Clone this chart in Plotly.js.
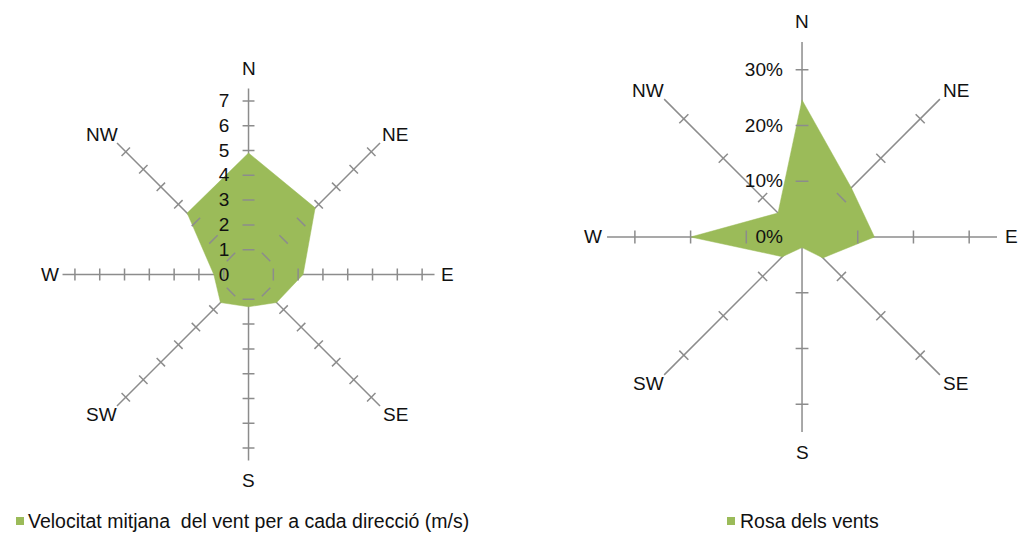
<!DOCTYPE html>
<html>
<head>
<meta charset="utf-8">
<script src="https://cdn.plot.ly/plotly-3.0.1.min.js"></script>
<style>html,body{margin:0;padding:0;background:#fff;}#chart{width:1020px;height:533px;}</style>
</head>
<body>
<div id="chart"></div>
<script>
// ---- data ----
var directions = ['N', 'NE', 'E', 'SE', 'S', 'SW', 'W', 'NW'];
var directionAngles = [0, 45, 90, 135, 180, 225, 270, 315];
var speedValues = [4.9, 3.8, 2.2, 1.6, 1.3, 1.6, 1.4, 3.5];      // m/s
var frequencyValues = [24.6, 12.5, 13.0, 5.3, 1.9, 5.0, 20.0, 6.1]; // %
var speedTicks = [0, 1, 2, 3, 4, 5, 6, 7];
var frequencyTicks = [0, 10, 20, 30];
var speedLegend = 'Velocitat mitjana  del vent per a cada direcció (m/s)';
var freqLegend = 'Rosa dels vents';

var W = 1020, H = 533;
var GREEN = '#9bbb59';
var GRID = '#8c8c8c';
var FONT = 'Liberation Sans, Arial, sans-serif';
var TXT = '#111111';

var domL = { x: [0.0613, 0.426], y: [0.136, 0.834] };
var domR = { x: [0.5951, 0.9775], y: [0.1895, 0.9212] };

function closed(arr) { return arr.concat([arr[0]]); }

// cross tick marks on every spoke (half-length given in data units)
function crossTicks(ticks, half) {
  var r = [], t = [];
  directionAngles.forEach(function (d) {
    ticks.forEach(function (v) {
      if (v <= 0) return;
      var rr = Math.sqrt(v * v + half * half);
      var a = Math.atan(half / v) * 180 / Math.PI;
      r.push(rr, rr, null);
      t.push(d - a, d + a, null);
    });
  });
  return { r: r, t: t };
}

var ticksL = crossTicks(speedTicks, 0.24);
var ticksR = crossTicks(frequencyTicks, 1.15);

// direction labels placed just outside the end of each spoke
function dirAnnotations(dom, padX, padY, diag) {
  var cx = (dom.x[0] + dom.x[1]) / 2, cy = (dom.y[0] + dom.y[1]) / 2;
  var rad = Math.min((dom.x[1] - dom.x[0]) * W, (dom.y[1] - dom.y[0]) * H) / 2;
  return directions.map(function (d, i) {
    var a = directionAngles[i] * Math.PI / 180;
    var s = Math.sin(a), c = Math.cos(a);
    var isDiag = directionAngles[i] % 90 !== 0;
    var dx = (rad + padX) * s + (isDiag ? Math.sign(s) * diag : 0);
    var dy = (rad + padY) * c - (isDiag ? Math.sign(c) * diag : 0);
    return {
      xref: 'paper', yref: 'paper', showarrow: false,
      x: cx + dx / W, y: cy + dy / H,
      xanchor: 'center', yanchor: 'middle', text: d,
      font: { family: FONT, size: 19, color: TXT }
    };
  });
}

var traces = [
  {
    type: 'scatterpolar', subplot: 'polar',
    r: closed(speedValues), theta: closed(directionAngles),
    mode: 'lines', fill: 'toself', fillcolor: GREEN,
    line: { color: GREEN, width: 0.5 }, showlegend: false, hoverinfo: 'skip'
  },
  {
    type: 'scatterpolar', subplot: 'polar',
    r: ticksL.r, theta: ticksL.t, mode: 'lines', connectgaps: false,
    line: { color: GRID, width: 1.5 }, showlegend: false, hoverinfo: 'skip'
  },
  {
    type: 'scatterpolar', subplot: 'polar2',
    r: closed(frequencyValues), theta: closed(directionAngles),
    mode: 'lines', fill: 'toself', fillcolor: GREEN,
    line: { color: GREEN, width: 0.5 }, showlegend: false, hoverinfo: 'skip'
  },
  {
    type: 'scatterpolar', subplot: 'polar2',
    r: ticksR.r, theta: ticksR.t, mode: 'lines', connectgaps: false,
    line: { color: GRID, width: 1.5 }, showlegend: false, hoverinfo: 'skip'
  }
];

function polarCfg(domain, range, ticks, suffix) {
  return {
    domain: domain,
    bgcolor: 'rgba(0,0,0,0)',
    layer: 'above traces',
    radialaxis: {
      range: range, tickmode: 'array', tickvals: ticks,
      ticktext: ticks.map(function (v) { return v + suffix; }),
      angle: 90, side: 'counterclockwise', tickangle: 90,
      showgrid: false, showline: false,
      ticks: 'outside', ticklen: 12, tickcolor: 'rgba(0,0,0,0)',
      tickfont: { family: FONT, size: 19, color: TXT }
    },
    angularaxis: {
      tickmode: 'array', tickvals: directionAngles, ticktext: directions,
      direction: 'clockwise', rotation: 90,
      showline: false, showgrid: true, gridcolor: GRID, gridwidth: 1.5,
      ticks: '', showticklabels: false
    }
  };
}

var annotations = dirAnnotations(domL, 13, 20, 6).concat(dirAnnotations(domR, 14, 21, 6)).concat([
  { xref: 'paper', yref: 'paper', x: 26 / W, y: (H - 521) / H, xanchor: 'left', yanchor: 'middle', showarrow: false, text: speedLegend, font: { family: FONT, size: 19.5, color: TXT } },
  { xref: 'paper', yref: 'paper', x: 738 / W, y: (H - 521) / H, xanchor: 'left', yanchor: 'middle', showarrow: false, text: freqLegend, font: { family: FONT, size: 19.5, color: TXT } }
]);

var layout = {
  width: W, height: H,
  margin: { l: 0, r: 0, t: 0, b: 0 },
  paper_bgcolor: '#fff',
  showlegend: false,
  font: { family: FONT, size: 19, color: TXT },
  polar: polarCfg(domL, [0, 7.5], speedTicks, ''),
  polar2: polarCfg(domR, [0, 35], frequencyTicks, '%'),
  shapes: [
    { type: 'rect', xref: 'paper', yref: 'paper', x0: 16 / W, x1: 24 / W, y0: (H - 525) / H, y1: (H - 517) / H, fillcolor: GREEN, line: { width: 0 } },
    { type: 'rect', xref: 'paper', yref: 'paper', x0: 727 / W, x1: 735 / W, y0: (H - 525) / H, y1: (H - 517) / H, fillcolor: GREEN, line: { width: 0 } }
  ],
  annotations: annotations
};

Plotly.newPlot('chart', traces, layout, { displayModeBar: false, staticPlot: true });
</script>
</body>
</html>
